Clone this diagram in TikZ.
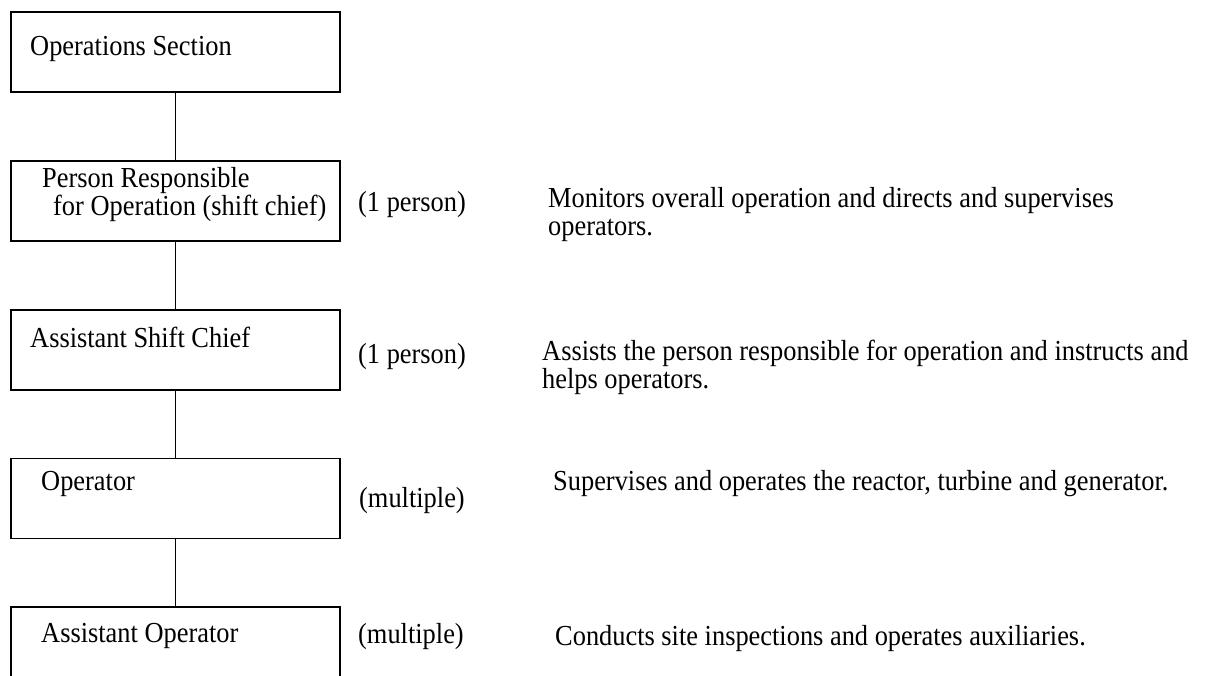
\documentclass[tikz,border=0pt]{standalone}
\usepackage{fontspec}
\setmainfont{Liberation Serif}[FakeStretch=0.91]
\usetikzlibrary{positioning}

\begin{document}
\begin{tikzpicture}[x=1pt,y=-1pt,
    box/.style={draw,line width=1.8pt,minimum width=329pt,minimum height=80pt,inner sep=0pt},
    link/.style={line width=1.8pt},
    lbl/.style={inner sep=0pt,anchor=base west,align=left,font=\fontsize{29}{28}\selectfont}]
  \useasboundingbox (0,0) rectangle (1208,675);

  % the chain of posts
  \node[box] (sect) at (175.5,52) {};
  \node[box,below=67pt of sect] (resp) {};
  \node[box,below=67pt of resp] (asst) {};
  \node[box,below=67pt of asst] (oper) {};
  \node[box,below=67pt of oper] (aop) {};
  \foreach \a/\b in {sect/resp,resp/asst,asst/oper,oper/aop}
    \draw[link] (\a) -- (\b);

  % names inside the boxes (base = last line)
  \node[lbl] (sect-t) at (30,55) {Operations Section};
  \node[lbl] (resp-t) at (42,215) {Person Responsible\\\hspace*{11pt}for Operation (shift chief)};
  \node[lbl] (asst-t) at (30,347) {Assistant Shift Chief};
  \node[lbl] (oper-t) at (41,490) {Operator};
  \node[lbl] (aop-t) at (41,642) {Assistant Operator};

  % numbers
  \node[lbl] (resp-n) at (358,211) {(1 person)};
  \node[lbl] (asst-n) at (358,363) {(1 person)};
  \node[lbl] (oper-n) at (359,507) {(multiple)};
  \node[lbl] (aop-n) at (358,643) {(multiple)};

  % duties
  \node[lbl] (resp-d) at (548,235) {Monitors overall operation and directs and supervises\\operators.};
  \node[lbl] (asst-d) at (542,388) {Assists the person responsible for operation and instructs and\\helps operators.};
  \node[lbl] (oper-d) at (553,490) {Supervises and operates the reactor, turbine and generator.};
  \node[lbl] (aop-d) at (555,645) {Conducts site inspections and operates auxiliaries.};
\end{tikzpicture}
\end{document}
